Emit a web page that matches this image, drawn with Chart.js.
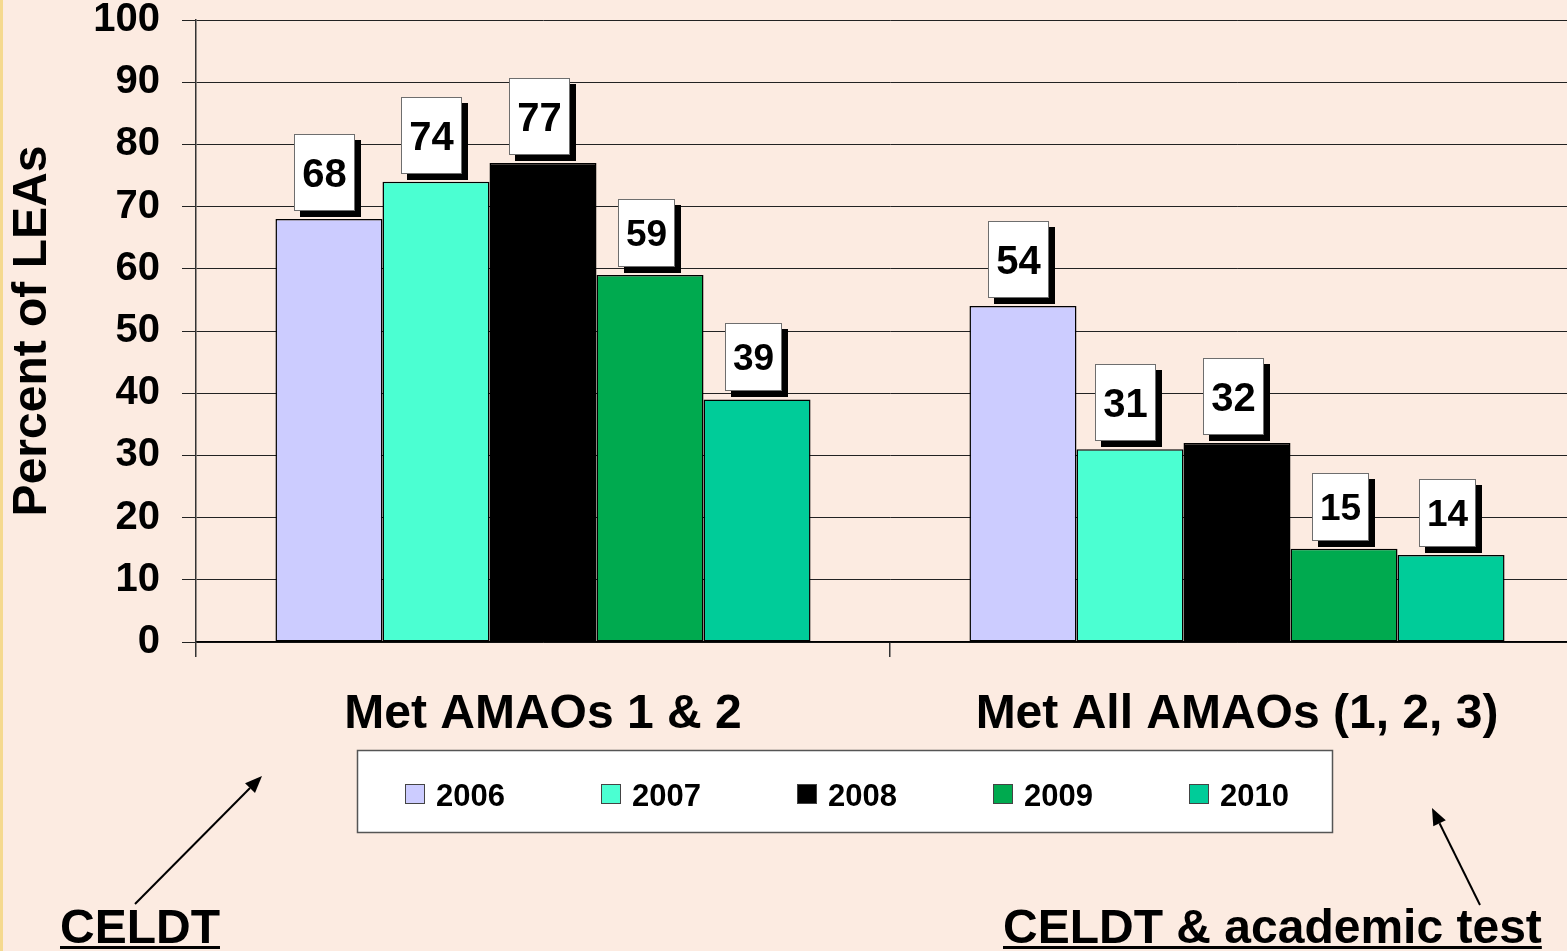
<!DOCTYPE html>
<html>
<head>
<meta charset="utf-8">
<script src="https://cdn.jsdelivr.net/npm/chart.js@4.4.1/dist/chart.umd.min.js"></script>
<style>
  html, body { margin: 0; padding: 0; overflow: hidden; background: #FCEBE1; }
  #wrap { position: absolute; left: 0; top: 0; width: 1600px; height: 951px; }
  #strip { position: absolute; left: 0; top: 0; width: 3px; height: 951px; background: #F5D98E; z-index: 2; }
</style>
</head>
<body>
<div id="strip"></div>
<div id="wrap"><canvas id="c" width="1600" height="951"></canvas></div>
<script>
const categories = ['Met AMAOs 1 & 2', 'Met All AMAOs (1, 2, 3)'];
const seriesNames = ['2006', '2007', '2008', '2009', '2010'];
const values2006 = [68, 54];
const values2007 = [74, 31];
const values2008 = [77, 32];
const values2009 = [59, 15];
const values2010 = [39, 14];
const seriesColors = ['#CCCCFF', '#4BFFD2', '#000000', '#00AA4F', '#00CC99'];
const yTicks = [0, 10, 20, 30, 40, 50, 60, 70, 80, 90, 100];
const yTitle = 'Percent of LEAs';
const noteLeft = 'CELDT';
const noteRight = 'CELDT & academic test';

const FONT = '"Liberation Sans", Arial, sans-serif';
const seriesValues = [values2006, values2007, values2008, values2009, values2010];

const labelBoxPlugin = {
  id: 'labelBoxes',
  afterDatasetsDraw(chart) {
    const ctx = chart.ctx;
    ctx.save();
    chart.data.datasets.forEach((ds, di) => {
      const meta = chart.getDatasetMeta(di);
      const big = di < 3;
      const w = big ? 61 : 57, h = big ? 77 : 68, fs = big ? 40 : 37;
      meta.data.forEach((bar, i) => {
        const cx = bar.x - 4;
        const bottom = bar.y - 8;
        const x0 = Math.round(cx - w / 2), y0 = Math.round(bottom - h);
        ctx.fillStyle = '#000';
        ctx.fillRect(x0 + 6, y0 + 6, w, h);
        ctx.fillStyle = '#FFFFFF';
        ctx.fillRect(x0, y0, w, h);
        ctx.strokeStyle = '#6E6E6E';
        ctx.lineWidth = 1;
        ctx.strokeRect(x0 + 0.5, y0 + 0.5, w - 1, h - 1);
        ctx.fillStyle = '#000';
        ctx.font = 'bold ' + fs + 'px ' + FONT;
        ctx.textAlign = 'center';
        ctx.textBaseline = 'alphabetic';
        ctx.fillText(String(ds.data[i]), x0 + w / 2, y0 + h / 2 + fs * 0.716 / 2);
      });
    });
    ctx.restore();
  }
};

function arrow(ctx, x1, y1, x2, y2) {
  const ang = Math.atan2(y2 - y1, x2 - x1);
  const L = 17, W = 7;
  const bx = x2 - L * Math.cos(ang), by = y2 - L * Math.sin(ang);
  ctx.beginPath();
  ctx.moveTo(x1, y1);
  ctx.lineTo(bx, by);
  ctx.strokeStyle = '#000';
  ctx.lineWidth = 2;
  ctx.stroke();
  ctx.beginPath();
  ctx.moveTo(x2, y2);
  ctx.lineTo(bx + W * Math.sin(ang), by - W * Math.cos(ang));
  ctx.lineTo(bx - W * Math.sin(ang), by + W * Math.cos(ang));
  ctx.closePath();
  ctx.fillStyle = '#000';
  ctx.fill();
}

const decorPlugin = {
  id: 'decor',
  afterDraw(chart) {
    const ctx = chart.ctx;
    ctx.save();
    // legend
    ctx.fillStyle = '#FFFFFF';
    ctx.fillRect(357, 750, 976, 83);
    ctx.strokeStyle = '#555';
    ctx.lineWidth = 1.5;
    ctx.strokeRect(357.5, 750.5, 975, 82);
    chart.data.datasets.forEach((ds, i) => {
      const x = 405 + 196 * i;
      ctx.fillStyle = ds.backgroundColor;
      ctx.fillRect(x, 784, 20, 20);
      ctx.strokeStyle = '#444';
      ctx.lineWidth = 1;
      ctx.strokeRect(x + 0.5, 784.5, 19, 19);
      ctx.fillStyle = '#000';
      ctx.font = 'bold 31px ' + FONT;
      ctx.textAlign = 'left';
      ctx.textBaseline = 'alphabetic';
      ctx.fillText(ds.label, x + 31, 806);
    });
    // notes
    ctx.font = 'bold 48px ' + FONT;
    ctx.textAlign = 'left';
    ctx.fillStyle = '#000';
    ctx.fillText(noteLeft, 60, 943);
    let w = ctx.measureText(noteLeft).width;
    ctx.fillRect(60, 946, w, 3);
    ctx.fillText(noteRight, 1003, 943);
    w = ctx.measureText(noteRight).width;
    ctx.fillRect(1003, 946, w, 3);
    arrow(ctx, 135, 904, 262, 776);
    arrow(ctx, 1480, 905, 1432, 808);
    ctx.restore();
  }
};

new Chart(document.getElementById('c'), {
  type: 'bar',
  data: {
    labels: categories,
    datasets: seriesNames.map((n, i) => ({
      label: n,
      data: seriesValues[i],
      backgroundColor: seriesColors[i],
      borderColor: '#000',
      borderWidth: 1.5,
      borderSkipped: false,
      categoryPercentage: 0.771,
      barPercentage: 1.0
    }))
  },
  options: {
    responsive: false,
    animation: false,
    events: [],
    layout: { padding: { left: 0, right: 16, top: 20, bottom: 189 } },
    plugins: { legend: { display: false }, tooltip: { enabled: false } },
    scales: {
      x: {
        grid: { display: true, drawOnChartArea: false, tickLength: 15, color: '#333', lineWidth: 1.5 },
        border: { display: true, color: '#000', width: 1.5 },
        ticks: { color: '#000', padding: 29, font: { family: FONT, size: 48, weight: 'bold', lineHeight: 1.2 } },
        afterFit(s) { s.height = 120; s.paddingLeft = 0; s.paddingRight = 0; }
      },
      y: {
        min: 0, max: 100,
        afterBuildTicks(s) { s.ticks = yTicks.map(v => ({ value: v })); },
        grid: { color: '#222', lineWidth: 1, tickLength: 14 },
        border: { display: true, color: '#333', width: 1.5 },
        ticks: { color: '#000', padding: 22, font: { family: FONT, size: 40, weight: 'bold', lineHeight: 0.95 } },
        title: { display: true, text: yTitle, color: '#000', padding: { top: 4, bottom: 0 }, font: { family: FONT, size: 48, weight: 'bold', lineHeight: 1.2 } },
        afterFit(s) { s.width = 196; s.paddingTop = 0; s.paddingBottom = 0; }
      }
    }
  },
  plugins: [labelBoxPlugin, decorPlugin]
});
</script>
</body>
</html>
